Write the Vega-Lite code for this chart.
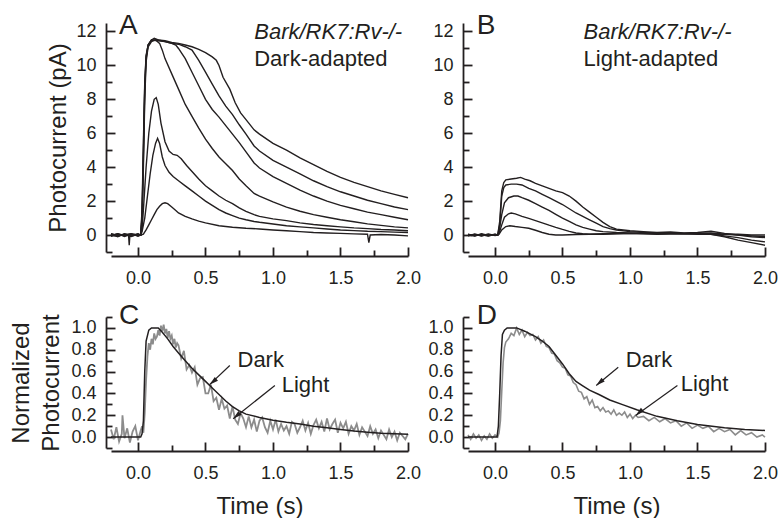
{
"$schema": "https://vega.github.io/schema/vega-lite/v6.json",
"background": "white",
"padding": {"left": 9, "top": 11, "right": 0, "bottom": 0},
"config": {
 "view": {"stroke": null},
 "font": "Liberation Sans",
 "axis": {"grid": false, "domainColor": "#231f20", "domainWidth": 1.8, "tickColor": "#231f20", "tickWidth": 1.8, "labelColor": "#231f20", "labelFontSize": 18, "labelFont": "Liberation Sans", "titleFont": "Liberation Sans", "titleFontSize": 24, "titleFontWeight": "normal", "titleColor": "#231f20", "labelFlush": false, "labelOverlap": false, "labelBound": false},
 "text": {"font": "Liberation Sans", "color": "#231f20"}
},
"datasets": {
 "a": [
  {"s":"s4","t":-0.2,"v":0.05},{"s":"s4","t":-0.15,"v":-0.1},{"s":"s4","t":-0.1,"v":0.08},{"s":"s4","t":-0.05,"v":-0.06},{"s":"s4","t":0,"v":0.04},{"s":"s4","t":0.02,"v":0},{"s":"s4","t":0.03,"v":1.5},{"s":"s4","t":0.04,"v":5.5},{"s":"s4","t":0.05,"v":9.0},{"s":"s4","t":0.06,"v":10.6},{"s":"s4","t":0.075,"v":11.2},{"s":"s4","t":0.1,"v":11.5},{"s":"s4","t":0.12,"v":11.6},{"s":"s4","t":0.15,"v":11.5},{"s":"s4","t":0.2,"v":11.45},{"s":"s4","t":0.25,"v":11.35},{"s":"s4","t":0.3,"v":11.3},{"s":"s4","t":0.35,"v":11.2},{"s":"s4","t":0.4,"v":11.1},{"s":"s4","t":0.45,"v":10.95},{"s":"s4","t":0.5,"v":10.75},{"s":"s4","t":0.55,"v":10.5},{"s":"s4","t":0.58,"v":10.3},{"s":"s4","t":0.6,"v":10.0},{"s":"s4","t":0.63,"v":9.3},{"s":"s4","t":0.68,"v":8.6},{"s":"s4","t":0.72,"v":7.8},{"s":"s4","t":0.76,"v":7.2},{"s":"s4","t":0.8,"v":6.8},{"s":"s4","t":0.86,"v":6.2},{"s":"s4","t":0.9,"v":5.95},{"s":"s4","t":1.0,"v":5.4},{"s":"s4","t":1.1,"v":5.0},{"s":"s4","t":1.2,"v":4.55},{"s":"s4","t":1.3,"v":4.15},{"s":"s4","t":1.4,"v":3.75},{"s":"s4","t":1.5,"v":3.4},{"s":"s4","t":1.6,"v":3.1},{"s":"s4","t":1.7,"v":2.85},{"s":"s4","t":1.8,"v":2.6},{"s":"s4","t":1.9,"v":2.4},{"s":"s4","t":2.0,"v":2.2},
  {"s":"s3","t":-0.2,"v":-0.05},{"s":"s3","t":-0.15,"v":0.07},{"s":"s3","t":-0.1,"v":-0.08},{"s":"s3","t":-0.05,"v":0.05},{"s":"s3","t":0,"v":-0.04},{"s":"s3","t":0.02,"v":0},{"s":"s3","t":0.03,"v":1.2},{"s":"s3","t":0.04,"v":5.0},{"s":"s3","t":0.05,"v":8.8},{"s":"s3","t":0.06,"v":10.5},{"s":"s3","t":0.075,"v":11.2},{"s":"s3","t":0.1,"v":11.5},{"s":"s3","t":0.15,"v":11.45},{"s":"s3","t":0.2,"v":11.4},{"s":"s3","t":0.25,"v":11.3},{"s":"s3","t":0.3,"v":11.25},{"s":"s3","t":0.35,"v":11.1},{"s":"s3","t":0.4,"v":10.9},{"s":"s3","t":0.45,"v":10.3},{"s":"s3","t":0.5,"v":9.6},{"s":"s3","t":0.55,"v":8.9},{"s":"s3","t":0.6,"v":8.2},{"s":"s3","t":0.65,"v":7.6},{"s":"s3","t":0.7,"v":7.1},{"s":"s3","t":0.75,"v":6.5},{"s":"s3","t":0.8,"v":5.95},{"s":"s3","t":0.86,"v":5.25},{"s":"s3","t":0.9,"v":4.95},{"s":"s3","t":1.0,"v":4.4},{"s":"s3","t":1.1,"v":4.0},{"s":"s3","t":1.2,"v":3.6},{"s":"s3","t":1.3,"v":3.2},{"s":"s3","t":1.4,"v":2.85},{"s":"s3","t":1.5,"v":2.55},{"s":"s3","t":1.6,"v":2.3},{"s":"s3","t":1.7,"v":2.05},{"s":"s3","t":1.8,"v":1.85},{"s":"s3","t":1.9,"v":1.65},{"s":"s3","t":2.0,"v":1.5},
  {"s":"s2","t":-0.2,"v":0.08},{"s":"s2","t":-0.15,"v":-0.04},{"s":"s2","t":-0.1,"v":0.04},{"s":"s2","t":-0.05,"v":-0.08},{"s":"s2","t":0,"v":0.06},{"s":"s2","t":0.02,"v":0},{"s":"s2","t":0.03,"v":1.0},{"s":"s2","t":0.04,"v":4.5},{"s":"s2","t":0.05,"v":8.5},{"s":"s2","t":0.06,"v":10.4},{"s":"s2","t":0.075,"v":11.2},{"s":"s2","t":0.1,"v":11.5},{"s":"s2","t":0.15,"v":11.5},{"s":"s2","t":0.2,"v":11.4},{"s":"s2","t":0.25,"v":11.3},{"s":"s2","t":0.28,"v":11.2},{"s":"s2","t":0.3,"v":11.0},{"s":"s2","t":0.35,"v":10.4},{"s":"s2","t":0.4,"v":9.6},{"s":"s2","t":0.45,"v":8.8},{"s":"s2","t":0.5,"v":8.0},{"s":"s2","t":0.55,"v":7.4},{"s":"s2","t":0.6,"v":6.95},{"s":"s2","t":0.65,"v":6.45},{"s":"s2","t":0.7,"v":5.95},{"s":"s2","t":0.75,"v":5.45},{"s":"s2","t":0.8,"v":4.9},{"s":"s2","t":0.86,"v":4.25},{"s":"s2","t":0.9,"v":3.95},{"s":"s2","t":1.0,"v":3.45},{"s":"s2","t":1.1,"v":3.05},{"s":"s2","t":1.2,"v":2.65},{"s":"s2","t":1.3,"v":2.3},{"s":"s2","t":1.4,"v":2.0},{"s":"s2","t":1.5,"v":1.75},{"s":"s2","t":1.6,"v":1.55},{"s":"s2","t":1.7,"v":1.35},{"s":"s2","t":1.8,"v":1.2},{"s":"s2","t":1.9,"v":1.05},{"s":"s2","t":2.0,"v":0.9},
  {"s":"s1","t":-0.2,"v":-0.08},{"s":"s1","t":-0.15,"v":0.05},{"s":"s1","t":-0.1,"v":-0.05},{"s":"s1","t":-0.07,"v":0.02},{"s":"s1","t":-0.065,"v":-0.6},{"s":"s1","t":-0.06,"v":0.0},{"s":"s1","t":-0.03,"v":0.05},{"s":"s1","t":0,"v":-0.05},{"s":"s1","t":0.02,"v":0},{"s":"s1","t":0.03,"v":0.8},{"s":"s1","t":0.04,"v":4.0},{"s":"s1","t":0.05,"v":8.0},{"s":"s1","t":0.06,"v":10.2},{"s":"s1","t":0.075,"v":11.1},{"s":"s1","t":0.1,"v":11.4},{"s":"s1","t":0.13,"v":11.5},{"s":"s1","t":0.16,"v":11.3},{"s":"s1","t":0.18,"v":10.9},{"s":"s1","t":0.2,"v":10.4},{"s":"s1","t":0.25,"v":9.5},{"s":"s1","t":0.3,"v":8.6},{"s":"s1","t":0.35,"v":7.7},{"s":"s1","t":0.4,"v":7.0},{"s":"s1","t":0.45,"v":6.3},{"s":"s1","t":0.5,"v":5.65},{"s":"s1","t":0.55,"v":5.1},{"s":"s1","t":0.6,"v":4.6},{"s":"s1","t":0.65,"v":4.2},{"s":"s1","t":0.7,"v":3.8},{"s":"s1","t":0.75,"v":3.3},{"s":"s1","t":0.8,"v":2.9},{"s":"s1","t":0.86,"v":2.45},{"s":"s1","t":0.9,"v":2.3},{"s":"s1","t":1.0,"v":1.95},{"s":"s1","t":1.1,"v":1.65},{"s":"s1","t":1.2,"v":1.4},{"s":"s1","t":1.3,"v":1.2},{"s":"s1","t":1.4,"v":1.05},{"s":"s1","t":1.5,"v":0.9},{"s":"s1","t":1.6,"v":0.78},{"s":"s1","t":1.7,"v":0.66},{"s":"s1","t":1.8,"v":0.57},{"s":"s1","t":1.9,"v":0.48},{"s":"s1","t":2.0,"v":0.42},
  {"s":"t8","t":-0.2,"v":0.02},{"s":"t8","t":-0.15,"v":-0.07},{"s":"t8","t":-0.1,"v":0.06},{"s":"t8","t":-0.05,"v":-0.03},{"s":"t8","t":0,"v":0.07},{"s":"t8","t":0.02,"v":0},{"s":"t8","t":0.03,"v":0.3},{"s":"t8","t":0.04,"v":1.5},{"s":"t8","t":0.06,"v":4.0},{"s":"t8","t":0.08,"v":6.0},{"s":"t8","t":0.1,"v":7.3},{"s":"t8","t":0.12,"v":8.0},{"s":"t8","t":0.135,"v":8.1},{"s":"t8","t":0.15,"v":7.7},{"s":"t8","t":0.17,"v":6.6},{"s":"t8","t":0.2,"v":5.5},{"s":"t8","t":0.23,"v":4.95},{"s":"t8","t":0.26,"v":4.75},{"s":"t8","t":0.29,"v":4.7},{"s":"t8","t":0.32,"v":4.5},{"s":"t8","t":0.36,"v":4.1},{"s":"t8","t":0.4,"v":3.75},{"s":"t8","t":0.45,"v":3.3},{"s":"t8","t":0.5,"v":2.9},{"s":"t8","t":0.55,"v":2.6},{"s":"t8","t":0.6,"v":2.3},{"s":"t8","t":0.65,"v":2.05},{"s":"t8","t":0.7,"v":1.85},{"s":"t8","t":0.75,"v":1.6},{"s":"t8","t":0.8,"v":1.4},{"s":"t8","t":0.86,"v":1.2},{"s":"t8","t":0.9,"v":1.1},{"s":"t8","t":1.0,"v":0.95},{"s":"t8","t":1.1,"v":0.85},{"s":"t8","t":1.2,"v":0.72},{"s":"t8","t":1.3,"v":0.62},{"s":"t8","t":1.4,"v":0.55},{"s":"t8","t":1.5,"v":0.48},{"s":"t8","t":1.6,"v":0.42},{"s":"t8","t":1.7,"v":0.38},{"s":"t8","t":1.8,"v":0.33},{"s":"t8","t":1.9,"v":0.3},{"s":"t8","t":2.0,"v":0.25},
  {"s":"t5","t":-0.2,"v":-0.03},{"s":"t5","t":-0.15,"v":0.08},{"s":"t5","t":-0.1,"v":-0.02},{"s":"t5","t":-0.05,"v":0.06},{"s":"t5","t":0,"v":-0.06},{"s":"t5","t":0.02,"v":0},{"s":"t5","t":0.03,"v":0.2},{"s":"t5","t":0.05,"v":1.0},{"s":"t5","t":0.07,"v":2.3},{"s":"t5","t":0.09,"v":3.6},{"s":"t5","t":0.11,"v":4.7},{"s":"t5","t":0.13,"v":5.4},{"s":"t5","t":0.145,"v":5.7},{"s":"t5","t":0.16,"v":5.4},{"s":"t5","t":0.18,"v":4.6},{"s":"t5","t":0.2,"v":4.1},{"s":"t5","t":0.23,"v":3.7},{"s":"t5","t":0.26,"v":3.45},{"s":"t5","t":0.3,"v":3.2},{"s":"t5","t":0.35,"v":2.9},{"s":"t5","t":0.4,"v":2.6},{"s":"t5","t":0.45,"v":2.3},{"s":"t5","t":0.5,"v":2.0},{"s":"t5","t":0.55,"v":1.75},{"s":"t5","t":0.6,"v":1.5},{"s":"t5","t":0.65,"v":1.3},{"s":"t5","t":0.7,"v":1.15},{"s":"t5","t":0.75,"v":1.0},{"s":"t5","t":0.8,"v":0.9},{"s":"t5","t":0.86,"v":0.8},{"s":"t5","t":0.9,"v":0.75},{"s":"t5","t":1.0,"v":0.65},{"s":"t5","t":1.1,"v":0.55},{"s":"t5","t":1.2,"v":0.48},{"s":"t5","t":1.3,"v":0.42},{"s":"t5","t":1.4,"v":0.36},{"s":"t5","t":1.5,"v":0.3},{"s":"t5","t":1.6,"v":0.26},{"s":"t5","t":1.7,"v":0.22},{"s":"t5","t":1.8,"v":0.2},{"s":"t5","t":1.9,"v":0.17},{"s":"t5","t":2.0,"v":0.15},
  {"s":"t2","t":-0.2,"v":0.06},{"s":"t2","t":-0.15,"v":-0.03},{"s":"t2","t":-0.1,"v":0.02},{"s":"t2","t":-0.05,"v":0.08},{"s":"t2","t":0,"v":-0.02},{"s":"t2","t":0.02,"v":0},{"s":"t2","t":0.04,"v":0.05},{"s":"t2","t":0.06,"v":0.3},{"s":"t2","t":0.08,"v":0.6},{"s":"t2","t":0.1,"v":0.9},{"s":"t2","t":0.12,"v":1.2},{"s":"t2","t":0.14,"v":1.5},{"s":"t2","t":0.16,"v":1.7},{"s":"t2","t":0.18,"v":1.85},{"s":"t2","t":0.2,"v":1.9},{"s":"t2","t":0.22,"v":1.85},{"s":"t2","t":0.25,"v":1.65},{"s":"t2","t":0.28,"v":1.45},{"s":"t2","t":0.3,"v":1.3},{"s":"t2","t":0.35,"v":1.1},{"s":"t2","t":0.4,"v":0.95},{"s":"t2","t":0.45,"v":0.82},{"s":"t2","t":0.5,"v":0.72},{"s":"t2","t":0.6,"v":0.55},{"s":"t2","t":0.7,"v":0.46},{"s":"t2","t":0.8,"v":0.4},{"s":"t2","t":0.9,"v":0.36},{"s":"t2","t":1.0,"v":0.3},{"s":"t2","t":1.1,"v":0.25},{"s":"t2","t":1.2,"v":0.2},{"s":"t2","t":1.3,"v":0.15},{"s":"t2","t":1.4,"v":0.12},{"s":"t2","t":1.5,"v":0.1},{"s":"t2","t":1.6,"v":0.07},{"s":"t2","t":1.7,"v":0.05},{"s":"t2","t":1.71,"v":-0.45},{"s":"t2","t":1.72,"v":0.0},{"s":"t2","t":1.8,"v":0.03},{"s":"t2","t":1.9,"v":0.0},{"s":"t2","t":2.0,"v":-0.05}
 ],
 "b": [
  {"s":"b1","t":-0.2,"v":0.05},{"s":"b1","t":-0.15,"v":-0.05},{"s":"b1","t":-0.1,"v":0.08},{"s":"b1","t":-0.05,"v":-0.03},{"s":"b1","t":0,"v":0.05},{"s":"b1","t":0.02,"v":0},{"s":"b1","t":0.035,"v":0.8},{"s":"b1","t":0.05,"v":2.6},{"s":"b1","t":0.065,"v":3.1},{"s":"b1","t":0.08,"v":3.25},{"s":"b1","t":0.12,"v":3.3},{"s":"b1","t":0.16,"v":3.35},{"s":"b1","t":0.19,"v":3.4},{"s":"b1","t":0.22,"v":3.3},{"s":"b1","t":0.26,"v":3.2},{"s":"b1","t":0.3,"v":3.05},{"s":"b1","t":0.35,"v":2.9},{"s":"b1","t":0.4,"v":2.75},{"s":"b1","t":0.45,"v":2.6},{"s":"b1","t":0.5,"v":2.5},{"s":"b1","t":0.55,"v":2.3},{"s":"b1","t":0.6,"v":2.0},{"s":"b1","t":0.65,"v":1.65},{"s":"b1","t":0.7,"v":1.35},{"s":"b1","t":0.75,"v":1.05},{"s":"b1","t":0.8,"v":0.75},{"s":"b1","t":0.85,"v":0.5},{"s":"b1","t":0.9,"v":0.35},{"s":"b1","t":1.0,"v":0.25},{"s":"b1","t":1.1,"v":0.2},{"s":"b1","t":1.2,"v":0.15},{"s":"b1","t":1.3,"v":0.18},{"s":"b1","t":1.4,"v":0.12},{"s":"b1","t":1.5,"v":0.15},{"s":"b1","t":1.6,"v":0.22},{"s":"b1","t":1.7,"v":0.1},{"s":"b1","t":1.8,"v":0.0},{"s":"b1","t":1.9,"v":-0.05},{"s":"b1","t":2.0,"v":-0.1},
  {"s":"b2","t":-0.2,"v":-0.05},{"s":"b2","t":-0.15,"v":0.06},{"s":"b2","t":-0.1,"v":-0.04},{"s":"b2","t":-0.05,"v":0.07},{"s":"b2","t":0,"v":-0.03},{"s":"b2","t":0.02,"v":0},{"s":"b2","t":0.035,"v":0.6},{"s":"b2","t":0.05,"v":2.3},{"s":"b2","t":0.065,"v":2.8},{"s":"b2","t":0.08,"v":2.95},{"s":"b2","t":0.12,"v":3.0},{"s":"b2","t":0.16,"v":3.0},{"s":"b2","t":0.2,"v":2.95},{"s":"b2","t":0.25,"v":2.75},{"s":"b2","t":0.3,"v":2.6},{"s":"b2","t":0.35,"v":2.4},{"s":"b2","t":0.4,"v":2.2},{"s":"b2","t":0.45,"v":2.0},{"s":"b2","t":0.5,"v":1.8},{"s":"b2","t":0.55,"v":1.55},{"s":"b2","t":0.6,"v":1.3},{"s":"b2","t":0.65,"v":1.1},{"s":"b2","t":0.7,"v":0.9},{"s":"b2","t":0.75,"v":0.7},{"s":"b2","t":0.8,"v":0.5},{"s":"b2","t":0.85,"v":0.38},{"s":"b2","t":0.9,"v":0.3},{"s":"b2","t":1.0,"v":0.2},{"s":"b2","t":1.1,"v":0.15},{"s":"b2","t":1.2,"v":0.12},{"s":"b2","t":1.3,"v":0.1},{"s":"b2","t":1.4,"v":0.1},{"s":"b2","t":1.5,"v":0.05},{"s":"b2","t":1.6,"v":0.05},{"s":"b2","t":1.7,"v":-0.1},{"s":"b2","t":1.8,"v":-0.3},{"s":"b2","t":1.9,"v":-0.45},{"s":"b2","t":2.0,"v":-0.6},
  {"s":"b3","t":-0.2,"v":0.02},{"s":"b3","t":-0.15,"v":-0.06},{"s":"b3","t":-0.1,"v":0.05},{"s":"b3","t":-0.05,"v":-0.05},{"s":"b3","t":0,"v":0.03},{"s":"b3","t":0.02,"v":0},{"s":"b3","t":0.03,"v":0.2},{"s":"b3","t":0.05,"v":1.2},{"s":"b3","t":0.07,"v":1.9},{"s":"b3","t":0.1,"v":2.2},{"s":"b3","t":0.14,"v":2.3},{"s":"b3","t":0.17,"v":2.3},{"s":"b3","t":0.2,"v":2.2},{"s":"b3","t":0.25,"v":2.05},{"s":"b3","t":0.3,"v":1.85},{"s":"b3","t":0.35,"v":1.65},{"s":"b3","t":0.4,"v":1.45},{"s":"b3","t":0.45,"v":1.22},{"s":"b3","t":0.5,"v":1.0},{"s":"b3","t":0.55,"v":0.8},{"s":"b3","t":0.6,"v":0.6},{"s":"b3","t":0.65,"v":0.45},{"s":"b3","t":0.7,"v":0.35},{"s":"b3","t":0.75,"v":0.25},{"s":"b3","t":0.8,"v":0.2},{"s":"b3","t":0.9,"v":0.15},{"s":"b3","t":1.0,"v":0.12},{"s":"b3","t":1.1,"v":0.1},{"s":"b3","t":1.2,"v":0.12},{"s":"b3","t":1.3,"v":0.1},{"s":"b3","t":1.4,"v":0.08},{"s":"b3","t":1.5,"v":0.1},{"s":"b3","t":1.6,"v":0.05},{"s":"b3","t":1.7,"v":-0.05},{"s":"b3","t":1.8,"v":-0.15},{"s":"b3","t":1.9,"v":-0.3},{"s":"b3","t":2.0,"v":-0.4},
  {"s":"b4","t":-0.2,"v":-0.03},{"s":"b4","t":-0.15,"v":0.04},{"s":"b4","t":-0.1,"v":-0.06},{"s":"b4","t":-0.05,"v":0.04},{"s":"b4","t":0,"v":-0.02},{"s":"b4","t":0.02,"v":0},{"s":"b4","t":0.03,"v":0.1},{"s":"b4","t":0.05,"v":0.6},{"s":"b4","t":0.07,"v":1.05},{"s":"b4","t":0.1,"v":1.25},{"s":"b4","t":0.12,"v":1.3},{"s":"b4","t":0.15,"v":1.25},{"s":"b4","t":0.2,"v":1.1},{"s":"b4","t":0.25,"v":0.98},{"s":"b4","t":0.3,"v":0.85},{"s":"b4","t":0.35,"v":0.72},{"s":"b4","t":0.4,"v":0.58},{"s":"b4","t":0.45,"v":0.45},{"s":"b4","t":0.5,"v":0.33},{"s":"b4","t":0.55,"v":0.22},{"s":"b4","t":0.6,"v":0.12},{"s":"b4","t":0.65,"v":0.08},{"s":"b4","t":0.7,"v":0.05},{"s":"b4","t":0.8,"v":0.05},{"s":"b4","t":0.9,"v":0.08},{"s":"b4","t":1.0,"v":0.1},{"s":"b4","t":1.2,"v":0.08},{"s":"b4","t":1.4,"v":0.1},{"s":"b4","t":1.6,"v":0.12},{"s":"b4","t":1.7,"v":0.05},{"s":"b4","t":1.8,"v":0.0},{"s":"b4","t":1.9,"v":-0.1},{"s":"b4","t":2.0,"v":-0.15},
  {"s":"b5","t":-0.2,"v":0.03},{"s":"b5","t":-0.15,"v":-0.03},{"s":"b5","t":-0.1,"v":0.02},{"s":"b5","t":-0.05,"v":-0.06},{"s":"b5","t":0,"v":0.04},{"s":"b5","t":0.02,"v":0},{"s":"b5","t":0.03,"v":0.05},{"s":"b5","t":0.05,"v":0.3},{"s":"b5","t":0.08,"v":0.5},{"s":"b5","t":0.11,"v":0.55},{"s":"b5","t":0.15,"v":0.5},{"s":"b5","t":0.2,"v":0.45},{"s":"b5","t":0.25,"v":0.4},{"s":"b5","t":0.3,"v":0.28},{"s":"b5","t":0.35,"v":0.15},{"s":"b5","t":0.4,"v":0.05},{"s":"b5","t":0.45,"v":0.0},{"s":"b5","t":0.5,"v":0.0},{"s":"b5","t":0.6,"v":0.03},{"s":"b5","t":0.7,"v":0.05},{"s":"b5","t":0.8,"v":0.08},{"s":"b5","t":1.0,"v":0.1},{"s":"b5","t":1.2,"v":0.05},{"s":"b5","t":1.4,"v":0.08},{"s":"b5","t":1.6,"v":0.05},{"s":"b5","t":1.8,"v":0.05},{"s":"b5","t":1.9,"v":0.0},{"s":"b5","t":2.0,"v":0.0}
 ],
 "cDark": [
  {"t":-0.2,"v":0},{"t":0.02,"v":0},{"t":0.03,"v":0.03},{"t":0.04,"v":0.15},{"t":0.05,"v":0.6},{"t":0.06,"v":0.88},{"t":0.08,"v":0.98},{"t":0.1,"v":1.0},{"t":0.15,"v":1.0},{"t":0.18,"v":0.96},{"t":0.22,"v":0.9},{"t":0.26,"v":0.83},{"t":0.3,"v":0.77},{"t":0.35,"v":0.7},{"t":0.4,"v":0.63},{"t":0.45,"v":0.57},{"t":0.5,"v":0.51},{"t":0.55,"v":0.45},{"t":0.6,"v":0.39},{"t":0.65,"v":0.33},{"t":0.7,"v":0.28},{"t":0.75,"v":0.24},{"t":0.8,"v":0.21},{"t":0.9,"v":0.18},{"t":1.0,"v":0.155},{"t":1.1,"v":0.135},{"t":1.2,"v":0.12},{"t":1.3,"v":0.1},{"t":1.4,"v":0.085},{"t":1.5,"v":0.07},{"t":1.6,"v":0.055},{"t":1.7,"v":0.045},{"t":1.8,"v":0.035},{"t":1.9,"v":0.03},{"t":2.0,"v":0.025}
 ],
 "cLight": [
  {"t":-0.2,"v":0.07},{"t":-0.18,"v":-0.02},{"t":-0.16,"v":0.09},{"t":-0.14,"v":-0.04},{"t":-0.12,"v":0.03},{"t":-0.115,"v":0.2},{"t":-0.1,"v":-0.01},{"t":-0.08,"v":0.08},{"t":-0.06,"v":-0.05},{"t":-0.04,"v":0.05},{"t":-0.02,"v":0.1},{"t":0.0,"v":-0.03},{"t":0.02,"v":0.06},{"t":0.03,"v":0.1},{"t":0.04,"v":0.04},
  {"t":0.05,"v":0.22},{"t":0.06,"v":0.52},{"t":0.07,"v":0.74},{"t":0.08,"v":0.86},{"t":0.09,"v":0.8},{"t":0.10,"v":0.9},{"t":0.11,"v":0.85},{"t":0.12,"v":0.95},{"t":0.13,"v":0.9},{"t":0.14,"v":0.92},{"t":0.15,"v":0.98},{"t":0.16,"v":0.93},{"t":0.17,"v":1.02},{"t":0.18,"v":0.97},{"t":0.19,"v":1.03},{"t":0.20,"v":0.95},{"t":0.21,"v":0.99},{"t":0.22,"v":0.91},{"t":0.23,"v":0.97},{"t":0.24,"v":0.9},{"t":0.25,"v":0.93},{"t":0.26,"v":0.85},{"t":0.27,"v":0.9},{"t":0.28,"v":0.82},{"t":0.29,"v":0.86},
  {"t":0.30,"v":0.84},{"t":0.32,"v":0.72},{"t":0.34,"v":0.79},{"t":0.36,"v":0.62},{"t":0.38,"v":0.66},{"t":0.40,"v":0.59},{"t":0.42,"v":0.64},{"t":0.44,"v":0.48},{"t":0.46,"v":0.54},{"t":0.48,"v":0.55},{"t":0.50,"v":0.4},{"t":0.52,"v":0.4},{"t":0.54,"v":0.48},{"t":0.56,"v":0.33},{"t":0.58,"v":0.36},{"t":0.60,"v":0.25},{"t":0.62,"v":0.35},{"t":0.64,"v":0.26},{"t":0.66,"v":0.29},{"t":0.68,"v":0.17},{"t":0.70,"v":0.28},{"t":0.72,"v":0.16},{"t":0.74,"v":0.12},{"t":0.76,"v":0.22},{"t":0.78,"v":0.17},{"t":0.80,"v":0.09},{"t":0.82,"v":0.19},{"t":0.84,"v":0.09},{"t":0.86,"v":0.16},{"t":0.88,"v":0.05},{"t":0.90,"v":0.15},{"t":0.92,"v":0.18},{"t":0.94,"v":0.09},{"t":0.96,"v":0.04},{"t":0.98,"v":0.15},{"t":1.00,"v":0.07},{"t":1.02,"v":0.16},{"t":1.04,"v":0.05},{"t":1.06,"v":0.12},{"t":1.08,"v":0.06},{"t":1.10,"v":0.1},{"t":1.12,"v":0.03},{"t":1.14,"v":0.14},{"t":1.16,"v":0.12},{"t":1.18,"v":0.04},{"t":1.20,"v":0.09},{"t":1.22,"v":0.15},{"t":1.24,"v":0.06},{"t":1.26,"v":0.13},{"t":1.28,"v":0.03},{"t":1.30,"v":0.11},{"t":1.32,"v":0.16},{"t":1.34,"v":0.08},{"t":1.36,"v":0.14},{"t":1.38,"v":0.05},{"t":1.40,"v":0.17},{"t":1.42,"v":0.07},{"t":1.44,"v":0.12},{"t":1.46,"v":0.16},{"t":1.48,"v":0.04},{"t":1.50,"v":0.13},{"t":1.52,"v":0.08},{"t":1.54,"v":0.14},{"t":1.56,"v":0.03},{"t":1.58,"v":0.1},{"t":1.60,"v":0.06},{"t":1.62,"v":0.12},{"t":1.64,"v":0.02},{"t":1.66,"v":0.09},{"t":1.68,"v":0.05},{"t":1.70,"v":0.01},{"t":1.72,"v":0.1},{"t":1.74,"v":0.03},{"t":1.76,"v":0.07},{"t":1.78,"v":-0.01},{"t":1.80,"v":0.06},{"t":1.82,"v":0.02},{"t":1.84,"v":-0.02},{"t":1.86,"v":0.07},{"t":1.88,"v":0.0},{"t":1.90,"v":0.05},{"t":1.92,"v":-0.03},{"t":1.94,"v":0.04},{"t":1.96,"v":0.01},{"t":1.98,"v":-0.02},{"t":2.00,"v":0.03}
 ],
 "dDark": [
  {"t":-0.2,"v":0},{"t":0.015,"v":0},{"t":0.025,"v":0.1},{"t":0.035,"v":0.4},{"t":0.045,"v":0.75},{"t":0.055,"v":0.94},{"t":0.07,"v":0.98},{"t":0.09,"v":1.0},{"t":0.16,"v":1.0},{"t":0.22,"v":0.97},{"t":0.3,"v":0.92},{"t":0.35,"v":0.88},{"t":0.4,"v":0.83},{"t":0.45,"v":0.75},{"t":0.5,"v":0.67},{"t":0.55,"v":0.58},{"t":0.6,"v":0.51},{"t":0.65,"v":0.47},{"t":0.7,"v":0.43},{"t":0.77,"v":0.39},{"t":0.85,"v":0.34},{"t":0.95,"v":0.295},{"t":1.05,"v":0.25},{"t":1.2,"v":0.19},{"t":1.35,"v":0.15},{"t":1.5,"v":0.115},{"t":1.7,"v":0.085},{"t":1.85,"v":0.07},{"t":2.0,"v":0.06}
 ],
 "dLight": [
  {"t":-0.2,"v":0.02},{"t":-0.18,"v":-0.02},{"t":-0.16,"v":0.03},{"t":-0.14,"v":-0.01},{"t":-0.12,"v":0.02},{"t":-0.1,"v":-0.03},{"t":-0.08,"v":0.01},{"t":-0.06,"v":-0.02},{"t":-0.04,"v":0.03},{"t":-0.02,"v":-0.01},{"t":0.0,"v":0.02},{"t":0.02,"v":0.0},{"t":0.03,"v":0.04},{"t":0.04,"v":0.15},{"t":0.05,"v":0.42},{"t":0.06,"v":0.68},{"t":0.07,"v":0.82},{"t":0.08,"v":0.87},{"t":0.1,"v":0.9},{"t":0.12,"v":0.95},{"t":0.14,"v":0.93},{"t":0.16,"v":1.0},{"t":0.18,"v":0.94},{"t":0.2,"v":0.98},{"t":0.22,"v":0.92},{"t":0.24,"v":0.96},{"t":0.26,"v":0.93},{"t":0.28,"v":0.94},{"t":0.3,"v":0.89},{"t":0.32,"v":0.92},{"t":0.34,"v":0.86},{"t":0.36,"v":0.89},{"t":0.38,"v":0.83},{"t":0.4,"v":0.82},{"t":0.42,"v":0.77},{"t":0.44,"v":0.76},{"t":0.46,"v":0.7},{"t":0.48,"v":0.68},{"t":0.5,"v":0.64},{"t":0.52,"v":0.63},{"t":0.54,"v":0.57},{"t":0.56,"v":0.56},{"t":0.58,"v":0.5},{"t":0.6,"v":0.48},{"t":0.62,"v":0.42},{"t":0.64,"v":0.41},{"t":0.66,"v":0.35},{"t":0.68,"v":0.37},{"t":0.7,"v":0.3},{"t":0.72,"v":0.34},{"t":0.74,"v":0.27},{"t":0.76,"v":0.28},{"t":0.78,"v":0.24},{"t":0.8,"v":0.27},{"t":0.82,"v":0.23},{"t":0.84,"v":0.24},{"t":0.86,"v":0.21},{"t":0.88,"v":0.25},{"t":0.9,"v":0.2},{"t":0.92,"v":0.22},{"t":0.94,"v":0.2},{"t":0.96,"v":0.23},{"t":0.98,"v":0.18},{"t":1.0,"v":0.21},{"t":1.02,"v":0.17},{"t":1.04,"v":0.2},{"t":1.06,"v":0.18},{"t":1.1,"v":0.19},{"t":1.14,"v":0.15},{"t":1.18,"v":0.18},{"t":1.22,"v":0.14},{"t":1.26,"v":0.17},{"t":1.3,"v":0.13},{"t":1.34,"v":0.15},{"t":1.38,"v":0.1},{"t":1.42,"v":0.13},{"t":1.46,"v":0.08},{"t":1.5,"v":0.11},{"t":1.54,"v":0.08},{"t":1.58,"v":0.1},{"t":1.62,"v":0.05},{"t":1.66,"v":0.08},{"t":1.7,"v":0.05},{"t":1.74,"v":0.07},{"t":1.78,"v":0.02},{"t":1.82,"v":0.06},{"t":1.86,"v":0.02},{"t":1.9,"v":0.04},{"t":1.94,"v":0.0},{"t":1.98,"v":0.02},{"t":2.0,"v":0.0}
 ]
},
"columns": 2,
"spacing": {"row": 65, "column": 60},
"bounds": "flush",
"concat": [
 {
  "width": 297, "height": 229,
  "encoding": {
   "x": {"field": "t", "type": "quantitative", "scale": {"domain": [-0.2, 2.0], "nice": false, "zero": false},
     "axis": {"values": [0,0.25,0.5,0.75,1,1.25,1.5,1.75,2], "labelExpr": "datum.value % 0.5 === 0 ? format(datum.value, '.1f') : ''", "tickSize": {"condition": {"test": "datum.value % 0.5 === 0", "value": -9}, "value": -6}, "offset": 4, "labelPadding": 22, "title": null}},
   "y": {"field": "v", "type": "quantitative", "scale": {"domain": [-1, 12.5], "nice": false, "zero": false},
     "axis": {"values": [-1,0,1,2,3,4,5,6,7,8,9,10,11,12], "labelExpr": "datum.value % 2 === 0 ? format(datum.value, 'd') : ''", "tickSize": {"condition": {"test": "datum.value % 2 === 0", "value": -9}, "value": -6}, "offset": 5, "labelPadding": 19, "title": "Photocurrent (pA)", "titlePadding": 5}}
  },
  "layer": [
   {"data": {"name": "a"}, "mark": {"type": "line", "color": "#231f20", "strokeWidth": 1.4}, "encoding": {"detail": {"field": "s"}}},
   {"data": {"values": [{"t": -0.141, "v": 11.88, "txt": "A"}]}, "mark": {"type": "text", "align": "left", "baseline": "alphabetic", "fontSize": 28}, "encoding": {"text": {"field": "txt"}}},
   {"data": {"values": [{"t": 0.861, "v": 11.58, "txt": "Bark/RK7:Rv-/-"}]}, "mark": {"type": "text", "align": "left", "baseline": "alphabetic", "fontSize": 22, "fontStyle": "italic"}, "encoding": {"text": {"field": "txt"}}},
   {"data": {"values": [{"t": 0.861, "v": 9.99, "txt": "Dark-adapted"}]}, "mark": {"type": "text", "align": "left", "baseline": "alphabetic", "fontSize": 22}, "encoding": {"text": {"field": "txt"}}}
  ]
 },
 {
  "width": 297, "height": 229,
  "encoding": {
   "x": {"field": "t", "type": "quantitative", "scale": {"domain": [-0.2, 2.0], "nice": false, "zero": false},
     "axis": {"values": [0,0.25,0.5,0.75,1,1.25,1.5,1.75,2], "labelExpr": "datum.value % 0.5 === 0 ? format(datum.value, '.1f') : ''", "tickSize": {"condition": {"test": "datum.value % 0.5 === 0", "value": -9}, "value": -6}, "offset": 4, "labelPadding": 22, "title": null}},
   "y": {"field": "v", "type": "quantitative", "scale": {"domain": [-1, 12.5], "nice": false, "zero": false},
     "axis": {"values": [-1,0,1,2,3,4,5,6,7,8,9,10,11,12], "labelExpr": "datum.value % 2 === 0 ? format(datum.value, 'd') : ''", "tickSize": {"condition": {"test": "datum.value % 2 === 0", "value": -9}, "value": -6}, "offset": 5, "labelPadding": 19, "title": null}}
  },
  "layer": [
   {"data": {"name": "b"}, "mark": {"type": "line", "color": "#231f20", "strokeWidth": 1.4}, "encoding": {"detail": {"field": "s"}}},
   {"data": {"values": [{"t": -0.136, "v": 11.88, "txt": "B"}]}, "mark": {"type": "text", "align": "left", "baseline": "alphabetic", "fontSize": 28}, "encoding": {"text": {"field": "txt"}}},
   {"data": {"values": [{"t": 0.656, "v": 11.58, "txt": "Bark/RK7:Rv-/-"}]}, "mark": {"type": "text", "align": "left", "baseline": "alphabetic", "fontSize": 22, "fontStyle": "italic"}, "encoding": {"text": {"field": "txt"}}},
   {"data": {"values": [{"t": 0.656, "v": 9.99, "txt": "Light-adapted"}]}, "mark": {"type": "text", "align": "left", "baseline": "alphabetic", "fontSize": 22}, "encoding": {"text": {"field": "txt"}}}
  ]
 },
 {
  "width": 297, "height": 131,
  "encoding": {
   "x": {"field": "t", "type": "quantitative", "scale": {"domain": [-0.2, 2.0], "nice": false, "zero": false},
     "axis": {"values": [0,0.25,0.5,0.75,1,1.25,1.5,1.75,2], "labelExpr": "datum.value % 0.5 === 0 ? format(datum.value, '.1f') : ''", "tickSize": {"condition": {"test": "datum.value % 0.5 === 0", "value": -9}, "value": -6}, "offset": 3, "labelPadding": 22, "title": "Time (s)", "titlePadding": 9}},
   "y": {"field": "v", "type": "quantitative", "scale": {"domain": [-0.1, 1.1], "nice": false, "zero": false},
     "axis": {"values": [-0.1,0,0.1,0.2,0.3,0.4,0.5,0.6,0.7,0.8,0.9,1.0,1.1], "labelExpr": "round(datum.value*10) % 2 === 0 ? format(datum.value, '.1f') : ''", "tickSize": {"condition": {"test": "round(datum.value*10) % 2 === 0", "value": -9}, "value": -6}, "offset": 5, "labelPadding": 19, "title": ["Normalized", "Photocurrent"], "titleLineHeight": 30, "titlePadding": 7}}
  },
  "layer": [
   {"data": {"name": "cLight"}, "mark": {"type": "line", "color": "#8c8c8c", "strokeWidth": 1.8}},
   {"data": {"name": "cDark"}, "mark": {"type": "line", "color": "#231f20", "strokeWidth": 1.5}},
   {"data": {"values": [{"t": 0.68, "v": 0.656, "t2": 0.53, "v2": 0.48}, {"t": 1.014, "v": 0.473, "t2": 0.705, "v2": 0.168}]}, "mark": {"type": "rule", "color": "#231f20", "strokeWidth": 1.2}, "encoding": {"x2": {"field": "t2"}, "y2": {"field": "v2"}}},
   {"data": {"values": [{"t": 0.53, "v": 0.48}, {"t": 0.705, "v": 0.168}]}, "mark": {"type": "point", "shape": "M0,-1L0.55,1L-0.55,1Z", "size": 81, "angle": 230, "filled": true, "color": "#231f20", "opacity": 1, "xOffset": 3.4, "yOffset": -2.9}},
   {"data": {"values": [{"t": -0.141, "v": 1.04, "txt": "C"}]}, "mark": {"type": "text", "align": "left", "baseline": "alphabetic", "fontSize": 28}, "encoding": {"text": {"field": "txt"}}},
   {"data": {"values": [{"t": 0.737, "v": 0.71, "txt": "Dark"}, {"t": 1.064, "v": 0.473, "txt": "Light"}]}, "mark": {"type": "text", "align": "left", "baseline": "middle", "fontSize": 22}, "encoding": {"text": {"field": "txt"}}}
  ]
 },
 {
  "width": 297, "height": 131,
  "encoding": {
   "x": {"field": "t", "type": "quantitative", "scale": {"domain": [-0.2, 2.0], "nice": false, "zero": false},
     "axis": {"values": [0,0.25,0.5,0.75,1,1.25,1.5,1.75,2], "labelExpr": "datum.value % 0.5 === 0 ? format(datum.value, '.1f') : ''", "tickSize": {"condition": {"test": "datum.value % 0.5 === 0", "value": -9}, "value": -6}, "offset": 3, "labelPadding": 22, "title": "Time (s)", "titlePadding": 9}},
   "y": {"field": "v", "type": "quantitative", "scale": {"domain": [-0.1, 1.1], "nice": false, "zero": false},
     "axis": {"values": [-0.1,0,0.1,0.2,0.3,0.4,0.5,0.6,0.7,0.8,0.9,1.0,1.1], "labelExpr": "round(datum.value*10) % 2 === 0 ? format(datum.value, '.1f') : ''", "tickSize": {"condition": {"test": "round(datum.value*10) % 2 === 0", "value": -9}, "value": -6}, "offset": 5, "labelPadding": 19, "title": null}}
  },
  "layer": [
   {"data": {"name": "dLight"}, "mark": {"type": "line", "color": "#8c8c8c", "strokeWidth": 1.6}},
   {"data": {"name": "dDark"}, "mark": {"type": "line", "color": "#231f20", "strokeWidth": 1.5}},
   {"data": {"values": [{"t": 0.913, "v": 0.64, "t2": 0.75, "v2": 0.473}, {"t": 1.351, "v": 0.473, "t2": 1.042, "v2": 0.198}]}, "mark": {"type": "rule", "color": "#231f20", "strokeWidth": 1.2}, "encoding": {"x2": {"field": "t2"}, "y2": {"field": "v2"}}},
   {"data": {"values": [{"t": 0.75, "v": 0.473}, {"t": 1.042, "v": 0.198}]}, "mark": {"type": "point", "shape": "M0,-1L0.55,1L-0.55,1Z", "size": 81, "angle": 230, "filled": true, "color": "#231f20", "opacity": 1, "xOffset": 3.4, "yOffset": -2.9}},
   {"data": {"values": [{"t": -0.136, "v": 1.04, "txt": "D"}]}, "mark": {"type": "text", "align": "left", "baseline": "alphabetic", "fontSize": 28}, "encoding": {"text": {"field": "txt"}}},
   {"data": {"values": [{"t": 0.968, "v": 0.71, "txt": "Dark"}, {"t": 1.376, "v": 0.488, "txt": "Light"}]}, "mark": {"type": "text", "align": "left", "baseline": "middle", "fontSize": 22}, "encoding": {"text": {"field": "txt"}}}
  ]
 }
]
}
